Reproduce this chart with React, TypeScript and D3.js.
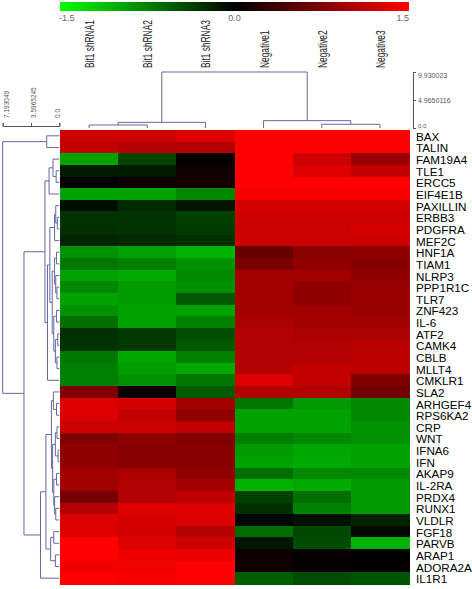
import React, { useEffect, useRef } from 'react';
import * as d3 from 'd3';

const genes = ['BAX', 'TALIN', 'FAM19A4', 'TLE1', 'ERCC5', 'EIF4E1B', 'PAXILLIN', 'ERBB3', 'PDGFRA', 'MEF2C',
  'HNF1A', 'TIAM1', 'NLRP3', 'PPP1R1C', 'TLR7', 'ZNF423', 'IL-6', 'ATF2', 'CAMK4', 'CBLB', 'MLLT4', 'CMKLR1',
  'SLA2', 'ARHGEF4', 'RPS6KA2', 'CRP', 'WNT', 'IFNA6', 'IFN', 'AKAP9', 'IL-2RA', 'PRDX4', 'RUNX1', 'VLDLR',
  'FGF18', 'PARVB', 'ARAP1', 'ADORA2A', 'IL1R1'];

const samples = ['Bit1 shRNA1', 'Bit1 shRNA2', 'Bit1 shRNA3', 'Negative1', 'Negative2', 'Negative3'];

// expression per sample, same order as genes
const shRNA1 = [1.2, 1.15, -0.95, -0.15, 0.02, -0.95, -0.08, -0.3, -0.28, -0.22, -0.85, -0.7, -0.95, -0.8, -0.95,
  -0.85, -0.65, -0.28, -0.3, -0.7, -0.75, -0.75, 0.75, 1.3, 1.3, 1.2, 0.75, 0.85, 0.85, 0.95, 0.95, 0.7, 1.05,
  1.3, 1.3, 1.5, 1.5, 1.42, 1.5];
const shRNA2 = [1.2, 1.05, -0.4, -0.15, 0.08, -0.95, -0.25, -0.3, -0.3, -0.24, -0.95, -0.75, -1.0, -0.92, -0.92,
  -0.95, -0.95, -0.33, -0.33, -0.98, -0.92, -0.85, 0.06, 1.25, 1.15, 1.18, 0.85, 0.8, 0.8, 1.0, 1.05, 1.05, 1.3,
  1.25, 1.25, 1.3, 1.4, 1.42, 1.45];
const shRNA3 = [1.3, 1.05, 0.03, 0.1, 0.12, -0.8, -0.12, -0.38, -0.35, -0.28, -1.05, -0.85, -0.8, -0.85, -0.52,
  -0.95, -0.75, -0.45, -0.52, -0.75, -1.0, -0.7, -0.52, 0.95, 0.85, 1.13, 0.75, 0.8, 0.8, 0.85, 0.95, 1.13, 1.3,
  1.3, 1.05, 1.22, 1.4, 1.5, 1.5];
const negative1 = [1.55, 1.55, 1.55, 1.55, 1.55, 1.45, 1.25, 1.2, 1.2, 1.2, 0.62, 0.72, 0.95, 0.95, 0.95, 0.95,
  1.0, 1.05, 1.05, 1.05, 1.05, 1.3, 1.05, -0.7, -0.95, -0.95, -0.75, -0.9, -0.95, -0.65, -1.05, -0.38, -0.28,
  -0.03, -0.65, -0.14, 0.08, 0.1, -0.55];
const negative2 = [1.55, 1.55, 1.2, 1.3, 1.5, 1.45, 1.25, 1.2, 1.2, 1.2, 0.82, 0.85, 0.95, 0.85, 0.85, 0.95,
  0.95, 1.0, 1.05, 1.05, 1.15, 1.15, 1.05, -0.9, -0.95, -0.95, -0.8, -0.98, -1.0, -0.8, -1.0, -0.65, -0.75,
  -0.1, -0.42, -0.45, 0.04, 0.04, -0.45];
const negative3 = [1.55, 1.55, 0.9, 1.15, 1.5, 1.45, 1.25, 1.2, 1.25, 1.2, 0.85, 0.8, 0.85, 0.9, 0.9, 0.9, 0.95,
  1.0, 1.1, 1.1, 1.1, 0.75, 0.65, -0.8, -0.8, -0.85, -0.85, -0.95, -0.95, -0.8, -0.9, -0.9, -0.9, -0.2, -0.05,
  -1.05, 0.0, 0.02, -0.5];

const series = [shRNA1, shRNA2, shRNA3, negative1, negative2, negative3];

const legendTicks = [-1.5, 0, 1.5];
const colTreeTicks = [0, 4.9650116, 9.930023];
const rowTreeTicks = [0, 3.5965245, 7.193049];

// dendrograms: leaf = index, node = [left, right, height]
type Node = number | [Node, Node, number];

const colTree: Node = [[[0, 1, 0.53], 2, 1.0], [3, [4, 5, 0.66], 1.3], 9.930023];

const rowTree: Node = [
  [0, 1, 1.6],
  [
    [
      [[2, [3, 4, 0.4], 0.8], 5, 1.3],
      [
        [
          [[6, [7, 8, 0.25], 0.45], 9, 0.6],
          [[[10, 11, 0.35], [12, [13, 14, 0.3], 0.45], 0.6], [[15, 16, 0.35], [[17, 18, 0.2], [19, 20, 0.3], 0.5], 0.7], 0.9],
          1.2,
        ],
        21,
        1.5,
      ],
      1.82,
    ],
    [
      [
        [[22, [23, 24, 0.35], 0.75], [[[25, 26, 0.3], [27, 28, 0.15], 0.5], [[29, 30, 0.35], [31, [32, 33, 0.45], 0.6], 0.7], 0.85], 1.0],
        [[34, 35, 0.7], [36, 37, 0.5], 1.1],
        1.7,
      ],
      38,
      2.39,
    ],
    4.49,
  ],
  7.193049,
];

type Elbow = { a: number; ah: number; b: number; bh: number; h: number };

const walk = (node: Node, pos: (i: number) => number, out: Elbow[]): { p: number; h: number } => {
  if (typeof node === 'number') return { p: pos(node), h: 0 };
  const l = walk(node[0], pos, out);
  const r = walk(node[1], pos, out);
  out.push({ a: l.p, ah: l.h, b: r.p, bh: r.h, h: node[2] });
  return { p: (l.p + r.p) / 2, h: node[2] };
};

const W = 472, H = 589;
const hm = { left: 60, right: 409, top: 130, bottom: 584 };
const LINE = '#6666a3';
const FONT = '"Liberation Sans", Arial, sans-serif';

const App = () => {
  const rightAxisRef = useRef<SVGGElement>(null);
  const leftAxisRef = useRef<SVGGElement>(null);

  const x = d3.scaleBand().domain(samples).range([hm.left, hm.right]);
  const y = d3.scaleBand().domain(genes).range([hm.top, hm.bottom]);
  const color = d3.scaleLinear<string>().domain([-1.5, 0, 1.5]).range(['#00ff00', '#000000', '#ff0000']).clamp(true);
  const legendX = d3.scaleLinear().domain([-1.5, 1.5]).range([hm.left, hm.right]);

  const colH = d3.scaleLinear().domain([0, 9.930023]).range([128, 72]);
  const rowH = d3.scaleLinear().domain([0, 7.193049]).range([59.3, 2.7]);

  const colElbows: Elbow[] = [];
  walk(colTree, i => (x(samples[i]) as number) + x.bandwidth() / 2, colElbows);
  const rowElbows: Elbow[] = [];
  walk(rowTree, i => (y(genes[i]) as number) + y.bandwidth() / 2, rowElbows);

  useEffect(() => {
    const fmt = (d: d3.NumberValue) => (+d === 0 ? '0.0' : String(d));

    const ra = d3.select(rightAxisRef.current);
    ra.selectAll('*').remove();
    ra.call(d3.axisRight(colH).tickValues(colTreeTicks).tickSize(3).tickPadding(2).tickFormat(fmt));
    ra.select('.domain').attr('stroke', '#555');
    ra.selectAll('line').attr('stroke', '#555');
    ra.selectAll<SVGTextElement, number>('text')
      .attr('fill', '#555')
      .style('font-size', d => (d === 0 ? '6px' : '7px'))
      .style('font-family', FONT)
      .attr('dy', d => (d === 0 ? '-0.1em' : d > 9 ? '0.75em' : '0.32em'));

    const la = d3.select(leftAxisRef.current);
    la.selectAll('*').remove();
    la.call(d3.axisTop(rowH).tickValues(rowTreeTicks).tickSize(3).tickFormat(fmt));
    la.select('.domain').attr('stroke', '#555');
    la.selectAll('line').attr('stroke', '#555');
    la.selectAll<SVGTextElement, number>('text')
      .attr('fill', '#555')
      .style('font-size', '6.5px')
      .style('font-family', FONT)
      .attr('text-anchor', 'start')
      .attr('transform', 'rotate(-90)')
      .attr('x', 8)
      .attr('y', d => (d === 0 ? 0.5 : d > 7 ? 5.5 : 4))
      .attr('dy', 0);
  }, []);

  return (
    <div style={{ position: 'absolute', left: 0, top: 0 }}>
      <svg width={W} height={H} style={{ display: 'block', background: '#fff', fontFamily: FONT }}>
        <defs>
          <linearGradient id="legendGrad" x1="0" x2="1" y1="0" y2="0">
            {[-1.5, -0.75, 0, 0.75, 1.5].map(v => (
              <stop key={v} offset={(v + 1.5) / 3} stopColor={color(v)} />
            ))}
          </linearGradient>
        </defs>

        {/* colour key */}
        <rect x={hm.left} y={2} width={hm.right - hm.left} height={9} fill="url(#legendGrad)" />
        {legendTicks.map((t, i) => (
          <text key={t} x={legendX(t) + (i === 0 ? -1 : 0)} y={21} fontSize={9} fill="#666"
            textAnchor={i === 0 ? 'start' : i === 2 ? 'end' : 'middle'}>
            {t.toFixed(1)}
          </text>
        ))}

        {/* sample labels */}
        {samples.map(s => (
          <text key={s} transform={`translate(${(x(s) as number) + x.bandwidth() / 2 + 5},68) rotate(-90) scale(0.62,1)`}
            fontSize={13.5} fill="#222">
            {s}
          </text>
        ))}

        {/* column dendrogram */}
        <g fill="none" stroke={LINE} strokeWidth={1}>
          {colElbows.map((e, i) => (
            <path key={i} d={`M${e.a},${colH(e.ah)}V${colH(e.h)}H${e.b}V${colH(e.bh)}`} />
          ))}
        </g>
        <g ref={rightAxisRef} transform="translate(413,0)" />

        {/* row dendrogram */}
        <g fill="none" stroke={LINE} strokeWidth={1}>
          {rowElbows.map((e, i) => (
            <path key={i} d={`M${rowH(e.ah)},${e.a}H${rowH(e.h)}V${e.b}H${rowH(e.bh)}`} />
          ))}
        </g>
        <g ref={leftAxisRef} transform="translate(0,126)" />

        {/* heatmap cells */}
        <g shapeRendering="crispEdges">
          {series.map((vals, c) =>
            vals.map((v, r) => (
              <rect key={`${c}-${r}`} x={x(samples[c])} y={y(genes[r])} width={x.bandwidth() + 0.5}
                height={y.bandwidth() + 0.5} fill={color(v)} />
            ))
          )}
        </g>

        {/* gene labels */}
        {genes.map(g => (
          <text key={g} x={416} y={(y(g) as number) + y.bandwidth() / 2 + 0.5} dominantBaseline="central"
            fontSize={11.7} fill="#000">
            {g}
          </text>
        ))}
      </svg>
    </div>
  );
};

export default App;
